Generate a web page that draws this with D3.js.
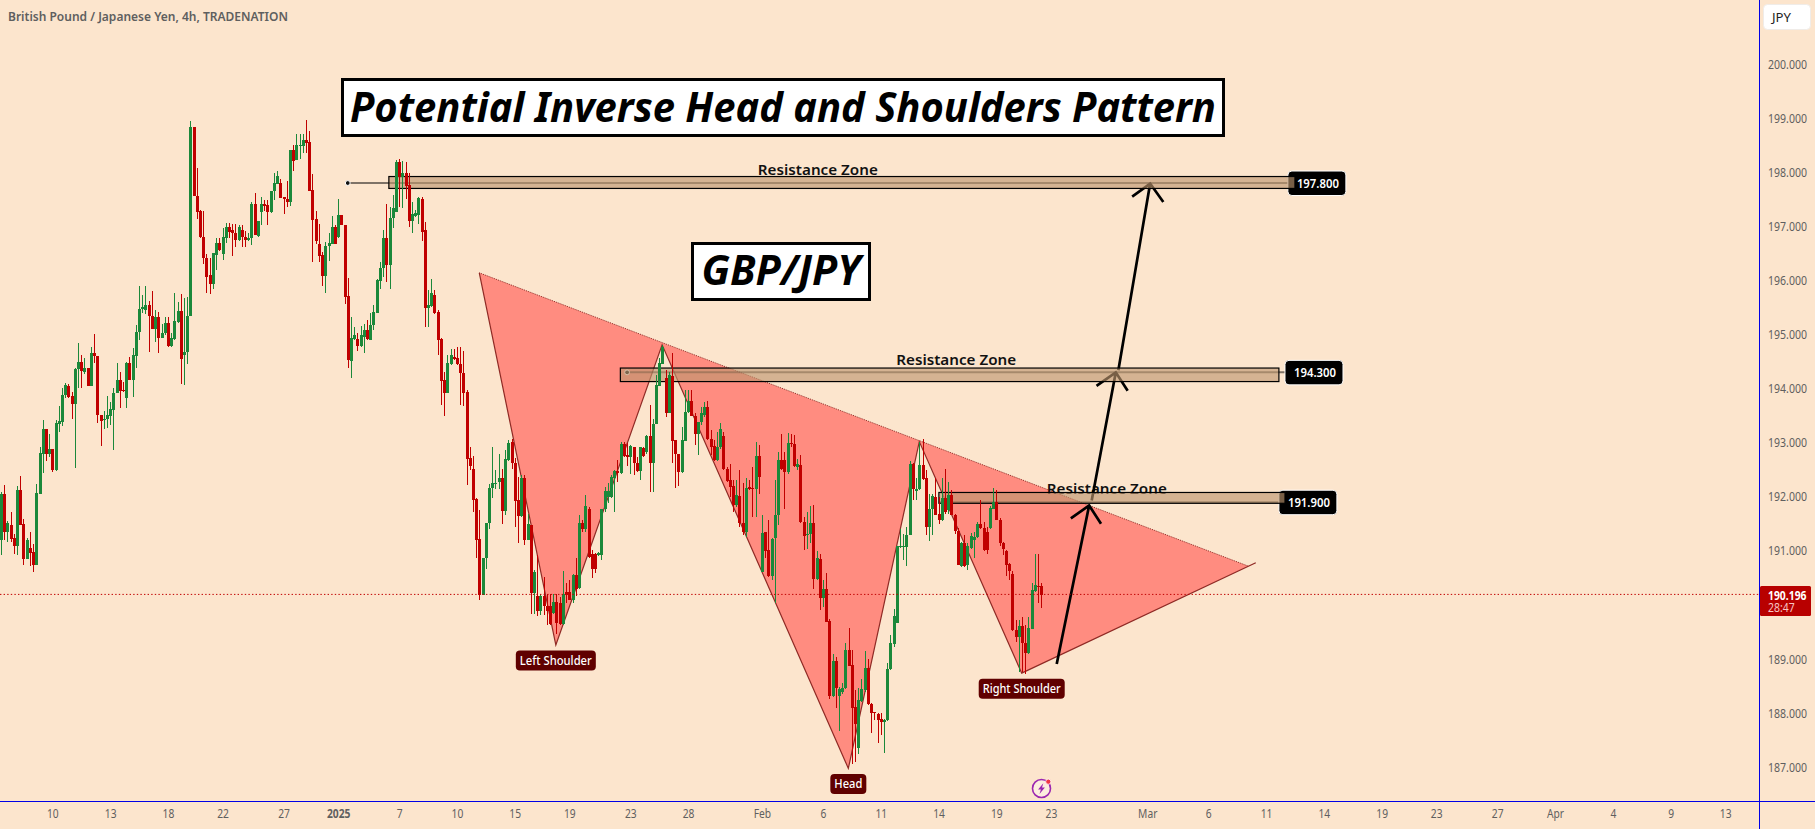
<!DOCTYPE html>
<html>
<head>
<meta charset="utf-8">
<title>GBP/JPY 4h</title>
<script src="https://cdn.jsdelivr.net/npm/d3@7/dist/d3.min.js"></script>
<style>
  html, body { margin: 0; padding: 0; background: #fce5cd; overflow: hidden; }
  svg { display: block; }
  text { font-family: "Noto Sans", "Open Sans", sans-serif; }
</style>
</head>
<body>
<svg id="chart" width="1815" height="829"></svg>
<script>
// GBP/JPY 4h candles as [open, high, low, close], oldest first.
const lateDecemberBars = [
[191.20,192.09,190.92,192.05],[192.05,192.22,191.20,191.35],[191.35,191.56,191.17,191.52],[191.48,191.71,191.17,191.22],
[191.24,191.31,190.94,191.09],[191.09,192.20,190.92,192.13],[192.13,192.39,191.48,191.48],[191.50,191.59,190.74,190.85],
[190.85,191.24,190.85,191.20],[191.05,191.35,190.72,190.96],[190.98,191.13,190.61,190.74],[190.74,192.24,190.74,192.07],
[192.05,192.92,192.05,192.81],[192.79,193.42,192.44,193.25],[193.25,193.25,192.66,192.79],[192.79,193.16,192.74,192.88],
[192.88,192.88,192.46,192.50],[192.50,193.42,192.48,193.37],[193.35,193.68,193.20,193.40],[193.39,194.01,193.30,193.88],
[193.88,194.11,193.82,194.07],[194.04,194.09,193.82,193.85],[193.87,193.93,193.44,193.72],[193.72,194.38,192.53,194.36],
[194.36,194.84,194.02,194.49],[194.49,194.62,194.01,194.33],[194.30,194.56,194.27,194.39],[194.39,194.39,194.04,194.04],
[194.04,194.76,194.04,194.65],[194.65,195.01,194.48,194.60],[194.60,194.60,193.37,193.51],[193.52,193.52,192.94,193.41],
[193.43,193.59,193.25,193.44],[193.43,193.86,193.28,193.51],[193.49,193.76,193.33,193.62],[193.61,194.01,192.87,193.91],
[193.91,194.47,193.91,194.16],[194.16,194.31,193.64,193.96],[193.97,194.13,193.94,193.96],[193.83,194.50,193.65,194.47],
[194.47,194.59,194.15,194.16],[194.16,194.75,193.85,194.62],[194.61,195.18,194.39,195.05],[195.05,195.90,194.90,195.48],
[195.48,195.73,195.39,195.50],[195.45,195.90,195.38,195.55],[195.55,195.61,194.67,195.35],[195.35,195.80,195.10,195.10],
[195.10,195.45,194.87,195.33],[195.33,195.41,194.66,194.94],[194.94,195.20,194.93,195.02],[195.02,195.33,194.99,195.22],
[195.22,195.33,194.77,194.79],[194.79,195.02,194.77,194.93],[194.91,195.77,194.90,195.25],[195.23,195.60,195.21,195.43],
[195.43,195.74,194.08,194.54],[194.62,195.67,194.06,194.68],[194.68,195.70,194.45,195.35],[195.35,198.94,195.35,198.83],
[198.83,198.83,197.56,197.56],[197.56,198.08,197.14,197.27],[197.28,197.30,196.79,196.80],[196.80,197.28,196.31,196.42],
[196.42,196.48,195.77,196.06],[196.10,196.42,195.74,195.93],[195.93,196.50,195.85,196.50],[196.47,196.79,196.19,196.70],
[196.70,196.79,196.55,196.56],[196.48,196.97,196.37,196.80],[196.79,197.07,196.69,196.99],[196.99,197.07,196.79,196.90],
[196.93,197.05,196.45,196.88],[196.88,197.04,196.62,196.74],[196.74,197.03,196.73,196.99],[196.94,197.02,196.62,196.80],
[196.80,196.92,196.62,196.74],[196.74,196.87,196.73,196.79],[196.79,197.44,196.65,197.42],[197.42,197.62,196.83,196.83],
[196.82,197.10,196.80,197.10],[197.27,197.54,197.02,197.42],[197.42,197.49,197.29,197.37],[197.39,197.48,197.02,197.26],
[197.26,197.65,197.24,197.65],[197.65,197.98,197.48,197.80],[197.78,198.02,197.78,197.93],[197.80,197.88,197.53,197.53],
[197.54,197.54,197.22,197.50],[197.51,197.83,197.36,197.45],[197.45,198.41,197.37,198.41],[198.41,198.50,198.02,198.20],
[198.22,198.70,198.22,198.50],[198.49,198.71,198.25,198.50],[198.48,198.71,198.36,198.59],[198.59,198.96,198.35,198.54],
[198.55,198.76,197.65,197.65],[197.67,197.96,196.34,197.11],[197.13,197.28,196.68,196.72],[196.67,197.05,196.34,196.45],
[196.47,196.53,195.89,196.08],[196.08,196.71,195.76,196.64],[196.64,196.87,196.36,196.70],[196.68,197.19,196.67,196.99],
[196.99,197.02,196.67,196.68],[196.80,197.51,196.79,197.21]
];
const januaryBars = [
[197.21,197.21,197.02,197.02],[197.02,197.02,195.56,195.70],[195.71,196.05,194.38,194.52],[194.51,195.33,194.20,194.94],
[194.92,195.14,194.89,194.99],[194.92,195.02,194.70,194.79],[194.79,195.15,194.77,194.99],[194.96,195.19,194.65,195.09],
[195.09,195.26,194.90,194.92],[194.90,195.39,194.89,195.17],[195.17,195.54,195.08,195.41],[195.40,196.03,195.39,196.00],
[195.98,196.34,195.85,196.22],[196.22,196.93,196.06,196.79],[196.79,197.41,195.97,196.28],[196.28,197.36,195.85,197.16],
[197.16,197.57,196.96,197.33],[197.27,198.22,197.27,198.19],[198.18,198.25,197.36,197.91],[197.91,198.20,197.33,197.99],
[197.99,198.18,197.51,197.75],[197.76,197.98,196.99,197.10],[197.10,197.45,196.88,197.22],[197.19,197.30,197.17,197.24],
[197.21,197.54,197.05,197.53],[197.51,197.54,196.73,196.90],[196.93,197.08,195.14,195.49],[195.49,195.82,195.14,195.54],
[195.52,196.02,195.51,195.76],[195.73,195.82,195.37,195.40],[195.42,195.45,194.62,194.89],[194.91,194.94,193.69,194.14],
[194.16,194.31,193.50,193.92],[193.92,194.62,193.91,194.48],[194.46,194.73,194.43,194.62],[194.58,194.73,194.53,194.54],
[194.56,194.77,194.43,194.46],[194.46,194.76,193.69,194.28],[194.28,194.69,193.68,193.92],[193.93,193.97,192.21,192.70],
[192.71,192.92,192.49,192.57],[192.52,192.75,191.72,191.94],[191.96,191.97,190.86,191.21],[191.22,191.75,190.10,190.19],
[190.19,190.86,190.18,190.86],[190.86,191.52,190.67,191.52],[191.51,192.23,191.41,192.17],[192.17,192.92,191.97,192.25],
[192.23,192.49,192.15,192.26],[192.28,192.80,192.15,192.34],[192.34,192.52,191.49,191.73],[191.73,192.86,191.66,192.70],
[192.68,193.05,192.67,192.99],[193.02,193.07,192.52,192.62],[192.63,192.71,191.44,191.93],[191.94,192.37,191.14,191.65],
[191.65,192.40,191.63,192.34],[192.34,192.40,191.11,191.21],[191.21,191.69,191.20,191.49],[191.47,191.47,189.84,190.22],
[190.22,190.64,189.84,190.61],[190.17,190.92,189.80,189.89],[189.89,190.21,189.81,190.17],[190.17,190.52,189.81,189.98],
[189.98,190.21,189.63,189.89],[189.98,190.21,189.63,189.65],[189.85,190.21,189.84,190.06],[190.06,190.21,189.47,189.66],
[190.03,190.15,189.63,189.65],[189.65,190.63,189.63,190.21],[190.24,190.40,190.03,190.18],[190.24,190.46,190.09,190.09],
[190.09,190.58,190.03,190.56],[190.56,190.86,190.17,190.30],[190.32,191.66,190.30,191.52],[191.52,191.57,191.35,191.40],
[191.40,192.03,191.35,191.83],[191.77,191.81,190.86,190.88],[190.95,191.01,190.49,190.66],[190.95,190.96,190.59,190.67],
[190.92,190.98,190.90,190.96],[190.92,191.78,190.83,191.77],[191.77,192.18,191.72,192.10],[192.00,192.25,191.88,192.10],
[192.00,192.40,191.97,192.37],[192.34,192.49,191.72,192.47],[192.47,192.68,192.28,192.44],[192.44,193.02,192.43,192.97],
[192.97,193.02,192.74,192.76],[192.77,192.99,192.57,192.73],[192.73,192.95,192.42,192.94],[192.92,192.92,192.40,192.62],
[192.62,192.74,192.46,192.48],[192.48,192.92,192.31,192.92],[192.91,192.92,192.74,192.76],[192.82,193.14,192.80,193.13],
[193.13,193.69,192.08,192.63],[192.63,193.43,192.08,193.35],[193.34,194.25,193.34,194.06],[194.05,194.56,194.05,194.48],
[194.46,194.80,194.46,194.77],[194.19,194.34,193.48,193.55],[193.55,194.31,193.54,194.25],[194.24,194.65,192.62,193.03],
[193.05,193.05,192.17,192.80],[192.80,192.80,192.20,192.46],[192.46,193.29,192.44,193.05],[193.03,193.97,193.03,193.57],
[193.57,193.97,193.54,193.77],[193.77,193.97,193.50,193.50],[193.50,193.54,192.95,193.17],[193.16,193.39,192.78,193.39],
[193.39,193.66,193.32,193.54],[193.51,193.76,193.48,193.66],[193.66,193.77,193.05,193.06],[193.06,193.23,192.77,192.92],
[192.94,193.05,192.66,192.68],[192.68,193.20,192.66,192.92],[192.92,193.36,192.89,193.26],[193.12,193.20,192.49,192.51],
[192.52,192.55,192.28,192.29],[192.31,192.60,192.00,192.18],[192.20,192.31,191.72,191.85],[191.85,192.31,191.81,192.03],
[192.01,192.49,191.44,191.52],[191.52,192.25,191.29,191.35],[191.35,192.34,191.26,192.17],[192.18,192.31,192.12,192.15],
[192.17,192.55,191.62,192.15],[192.15,193.02,191.63,192.75],[192.75,192.95,192.06,192.37]
];
const februaryBars = [
[190.61,191.67,190.61,191.34],[191.35,191.35,190.86,190.99],[191.01,191.58,190.52,190.54],[190.54,191.23,190.46,191.22],
[191.23,192.31,190.03,191.66],[191.66,192.83,191.47,192.68],[192.68,193.17,192.49,192.52],[192.68,192.83,191.78,192.46],
[192.46,193.18,192.43,193.00],[193.00,193.17,192.92,192.97],[192.97,193.14,192.55,192.57],[192.55,192.69,192.49,192.60],
[192.58,192.77,191.51,191.54],[191.54,191.63,191.01,191.28],[191.29,191.72,191.04,191.32],[191.32,191.83,191.14,191.52],
[191.52,191.85,190.30,190.48],[190.48,191.00,190.46,190.86],[190.85,190.95,189.90,190.13],[190.13,190.46,189.97,190.29],
[190.29,190.60,189.69,189.69],[189.70,189.75,188.27,188.31],[188.31,189.10,188.30,188.96],[188.96,189.03,188.09,188.46],
[188.31,188.49,187.67,188.44],[188.39,188.55,188.36,188.46],[188.46,189.29,188.44,189.17],[189.17,189.58,188.87,188.87],
[188.89,189.17,187.06,188.10],[188.12,188.43,187.10,187.80],[187.35,188.46,187.24,188.24],[188.23,188.64,188.21,188.44],
[188.42,189.15,188.39,188.84],[188.84,189.01,188.15,188.17],[188.17,188.18,187.64,188.01],[188.02,188.02,187.87,188.00],
[187.98,188.00,187.44,187.87],[187.89,188.00,187.59,187.84],[187.84,187.90,187.27,187.88],[187.87,188.92,187.86,188.81],
[188.81,189.44,188.79,189.29],[189.28,189.92,189.23,189.79],[189.66,191.09,189.66,191.09],[191.08,191.41,191.06,191.09],
[191.08,191.32,190.83,191.09],[191.08,191.44,190.72,191.30],[191.29,192.67,191.29,192.60],[192.60,192.63,191.94,192.15],
[192.11,192.34,191.95,192.15],[192.14,193.02,192.12,192.59],[192.59,193.06,192.31,192.32],[192.34,192.49,191.29,191.45],
[191.45,192.05,191.19,191.78],[191.78,192.05,191.29,192.01],[191.99,192.34,191.66,191.67],[191.69,191.99,191.49,191.57],
[191.57,192.34,191.56,191.97],[191.97,192.51,191.69,191.71],[191.75,192.28,191.69,192.03],[192.03,192.12,191.66,191.67],
[191.67,191.69,191.32,191.37],[191.37,191.43,190.74,190.74],[190.72,191.17,190.71,191.14],[191.14,191.29,190.71,190.72],
[190.74,191.14,190.64,191.09],[191.06,191.33,191.04,191.27],[191.20,191.35,190.86,191.26],[191.25,191.54,191.23,191.49],
[191.49,191.94,191.41,191.43],[191.43,191.54,191.00,191.01],[191.35,191.44,190.95,191.01],[191.43,191.83,191.41,191.80],
[191.78,192.17,191.78,191.91],[191.91,192.12,191.57,191.57],[191.58,191.60,191.09,191.14],[191.15,191.17,190.92,191.04],
[190.99,191.01,190.53,190.74],[190.75,190.77,190.46,190.63],[190.57,190.63,189.52,189.53],[189.53,189.72,189.32,189.41],
[189.41,189.73,188.76,189.61],[189.61,189.78,188.76,189.30],[189.30,189.63,188.72,189.12],[189.12,189.78,189.10,189.57],
[189.55,190.40,189.55,190.27],[190.26,190.94,190.24,190.37],[190.36,190.94,190.03,190.35],[190.36,190.40,189.95,190.18]
];
const bars = [...lateDecemberBars, ...januaryBars, ...februaryBars];

// Price axis and time axis labels. Time ticks are given in bar slots.
const priceTicks = [187, 188, 189, 191, 192, 193, 194, 195, 196, 197, 198, 199, 200];
const timeTickBars = [16, 34, 52, 69, 88, 105, 124, 142, 160, 177, 196, 214, 237, 256, 274, 292, 310, 327, 357, 376, 394, 412, 430, 447, 466, 484, 502, 520, 537];
const timeTickLabels = ["10", "13", "18", "22", "27", "2025", "7", "10", "15", "19", "23", "28", "Feb", "6", "11", "14", "19", "23", "Mar", "6", "11", "14", "19", "23", "27", "Apr", "4", "9", "13"];
const lastPrice = 190.196;

// Head and shoulders outline as [bar slot, price].
const patternOutline = [[148.96, 196.14], [172.8, 189.26], [205.9, 194.81], [263.9, 186.98], [286.0, 193.02], [317.9, 188.74], [390.8, 190.78]];
const patternUpperEdge = [[148.96, 196.14], [388.4, 190.72]];
const patternLabels = ["Left Shoulder", "Head", "Right Shoulder"];
const patternLabelAnchors = [[172.8, 189.26], [263.9, 186.98], [317.9, 188.74]];

// Resistance zones.
const zoneLevels = [197.8, 194.3, 191.9];
const zoneTops = [197.92, 194.38, 192.08];
const zoneBottoms = [197.70, 194.13, 191.88];
const zoneStarts = [120.8, 192.9, 292.1];
const zoneEnds = [403, 398, 399.9];
const zoneLineStarts = [108, 195, 292.1];
const zoneTagBars = [400.8, 399.9, 398];
const zoneCaptions = ["Resistance Zone", "Resistance Zone", "Resistance Zone"];
const zoneCaptionBars = [254.4, 297.5, 344.4];
const zoneCaptionPrices = [198.05, 194.55, 192.17];

// Projected path: each arrow is start, tip, left barb, right barb.
const arrows = [
  [[328.8, 188.91], [338.9, 191.84], [333.2, 191.60], [342.6, 191.50]],
  [[339.7, 191.93], [347.2, 194.30], [341.2, 194.05], [350.9, 193.96]],
  [[348.0, 194.34], [357.9, 197.79], [352.3, 197.55], [362.0, 197.45]]
];

const BG = "#fce5cd", UP = "#1b883a", DOWN = "#c00000", AXIS_BLUE = "#0000e6", TEXT_GREY = "#5f5f5f";
const width = 1815, height = 829, plotRight = 1759, plotBottom = 801.5;

const svg = d3.select("#chart");
svg.append("rect").attr("width", width).attr("height", height).attr("fill", BG);

const x = d3.scaleLinear().domain([0, bars.length - 1]).range([1, 1041.3]);
const y = d3.scaleLinear().domain([187, 200]).range([767.3, 64]);
const pt = d => [x(d[0]), y(d[1])];

// Narrow a rendered label to the width its typeface would normally take.
const squeeze = (sel, factor) => sel.each(function () {
  this.setAttribute("textLength", this.getComputedTextLength() * factor);
  this.setAttribute("lengthAdjust", "spacingAndGlyphs");
});

// Pattern fill and edges.
const pattern = svg.append("g");
pattern.append("path")
  .attr("d", d3.line()([...patternOutline, patternUpperEdge[1]].map(pt)) + "Z")
  .attr("fill", "#ff8c80").attr("stroke", "none");
pattern.append("path")
  .attr("d", d3.line()(patternOutline.map(pt)))
  .attr("fill", "none").attr("stroke", "#8f2a25").attr("stroke-width", 1.2);
pattern.append("path")
  .attr("d", d3.line()(patternUpperEdge.map(pt)))
  .attr("fill", "none").attr("stroke", "#8f2a25").attr("stroke-width", 1).attr("stroke-dasharray", "1 1");

// Zone guide lines with their start dots, then captions and price tags.
const zoneIdx = d3.range(zoneLevels.length);
svg.append("g").selectAll("line").data(zoneIdx).join("line")
  .attr("x1", i => x(zoneLineStarts[i])).attr("x2", i => x(zoneTagBars[i]))
  .attr("y1", i => y(zoneLevels[i])).attr("y2", i => y(zoneLevels[i]))
  .attr("stroke", "rgba(0,0,0,0.5)").attr("stroke-width", 2);
svg.append("g").selectAll("circle").data(zoneIdx.slice(0, 2)).join("circle")
  .attr("cx", i => x(zoneLineStarts[i])).attr("cy", i => y(zoneLevels[i]))
  .attr("r", 2.4).attr("fill", "#111").attr("stroke", "#fff").attr("stroke-width", 1);

svg.append("g").selectAll("text").data(zoneIdx).join("text")
  .attr("x", i => x(zoneCaptionBars[i])).attr("y", i => y(zoneCaptionPrices[i]))
  .attr("text-anchor", "middle").attr("dominant-baseline", "central")
  .attr("font-size", 15).attr("font-weight", 600).attr("fill", "#111")
  .attr("textLength", 120).attr("lengthAdjust", "spacingAndGlyphs")
  .text(i => zoneCaptions[i]);

// Arrows.
svg.append("g").selectAll("path").data(arrows).join("path")
  .attr("d", a => d3.line()([a[0], a[1]].map(pt)) + d3.line()([a[2], a[1], a[3]].map(pt)))
  .attr("fill", "none").attr("stroke", "#000").attr("stroke-width", 2.7);

// Zone price tags.
const tags = svg.append("g").selectAll("g").data(zoneIdx).join("g")
  .attr("transform", i => `translate(${x(zoneTagBars[i])},${y(zoneLevels[i])})`);
tags.append("rect")
  .attr("x", 0).attr("y", -12).attr("width", 58).attr("height", 24.5).attr("rx", 4)
  .attr("fill", "#000").attr("stroke", "#fff").attr("stroke-width", 1);
tags.append("text")
  .attr("x", 30).attr("dominant-baseline", "central").attr("text-anchor", "middle")
  .attr("font-size", 12.5).attr("font-weight", 600).attr("fill", "#fff")
  .attr("textLength", 42).attr("lengthAdjust", "spacingAndGlyphs")
  .text(i => zoneLevels[i].toFixed(3));

// Zone bands sit over the guides, captions, arrows and tags.
svg.append("g").selectAll("rect").data(zoneIdx).join("rect")
  .attr("x", i => x(zoneStarts[i])).attr("width", i => x(zoneEnds[i]) - x(zoneStarts[i]))
  .attr("y", i => y(zoneTops[i])).attr("height", i => y(zoneBottoms[i]) - y(zoneTops[i]))
  .attr("fill", "rgba(190,151,111,0.63)").attr("stroke", "#000").attr("stroke-width", 1.2);

// Candles stay fully opaque above the zones and the pattern fill.
const candles = svg.append("g").attr("shape-rendering", "crispEdges")
  .selectAll("g").data(bars).join("g")
  .attr("fill", d => d[3] >= d[0] ? UP : DOWN);
candles.append("rect")
  .attr("x", (d, i) => Math.round(x(i)))
  .attr("width", 1)
  .attr("y", d => y(d[1]))
  .attr("height", d => Math.max(1, y(d[2]) - y(d[1])));
candles.append("rect")
  .attr("x", (d, i) => Math.round(x(i)) - 1)
  .attr("width", 3)
  .attr("y", d => y(Math.max(d[0], d[3])))
  .attr("height", d => Math.max(1, Math.abs(y(d[0]) - y(d[3]))));

// Last price line.
svg.append("line")
  .attr("x1", 0).attr("x2", plotRight)
  .attr("y1", y(lastPrice)).attr("y2", y(lastPrice))
  .attr("stroke", DOWN).attr("stroke-width", 1).attr("stroke-dasharray", "1.4 2.2");

// Pattern point labels.
const pills = svg.append("g").selectAll("g").data(patternLabels).join("g")
  .attr("transform", (d, i) => {
    const p = pt(patternLabelAnchors[i]);
    return `translate(${p[0]},${p[1] + 5.5})`;
  });
const pillWidths = [80, 36, 86];
const pillTextWidths = [72, 28, 78];
pills.append("rect")
  .attr("x", (d, i) => -pillWidths[i] / 2).attr("width", (d, i) => pillWidths[i])
  .attr("y", 0).attr("height", 20).attr("rx", 4).attr("fill", "#600000");
pills.append("text")
  .attr("y", 10).attr("text-anchor", "middle").attr("dominant-baseline", "central")
  .attr("font-size", 12.5).attr("font-weight", 500).attr("fill", "#fff")
  .attr("textLength", (d, i) => pillTextWidths[i]).attr("lengthAdjust", "spacingAndGlyphs")
  .text(d => d);

// Headline boxes.
function headlineBox(text, bx, by, bw, bh, size, baseline, textLen) {
  const g = svg.append("g");
  g.append("rect").attr("x", bx + 1.5).attr("y", by + 1.5).attr("width", bw - 3).attr("height", bh - 3)
    .attr("fill", "#fff").attr("stroke", "#000").attr("stroke-width", 3);
  g.append("text")
    .attr("x", bx + bw / 2).attr("y", baseline)
    .attr("text-anchor", "middle")
    .attr("font-size", size).attr("font-weight", 700).attr("font-style", "italic")
    .attr("textLength", textLen).attr("lengthAdjust", "spacingAndGlyphs")
    .attr("fill", "#000").text(text);
}
headlineBox("Potential Inverse Head and Shoulders Pattern", 341, 78, 884, 59, 42, 121.7, 866);
headlineBox("GBP/JPY", 691, 242, 180, 59, 42, 285, 159);

// Chart caption.
svg.append("text")
  .attr("x", 8).attr("y", 16.5).attr("dominant-baseline", "central")
  .attr("font-size", 12.5).attr("font-weight", 600).attr("fill", TEXT_GREY)
  .attr("textLength", 280).attr("lengthAdjust", "spacingAndGlyphs")
  .text("British Pound / Japanese Yen, 4h, TRADENATION");

// Axes.
const priceAxis = d3.axisRight(y).tickValues(priceTicks).tickSize(0).tickPadding(0).tickFormat(d => d3.format(".3f")(d));
const priceG = svg.append("g").attr("transform", "translate(1768,0)").call(priceAxis);
priceG.select(".domain").remove();
priceG.selectAll("text").attr("font-size", 12.5).attr("fill", TEXT_GREY).attr("font-family", null)
  .attr("textLength", 39).attr("lengthAdjust", "spacingAndGlyphs");

const timeAxis = d3.axisBottom(x).tickValues(timeTickBars).tickSize(0).tickPadding(0)
  .tickFormat((d, i) => timeTickLabels[i]);
const timeG = svg.append("g").attr("transform", "translate(0,809.5)").call(timeAxis);
timeG.select(".domain").remove();
timeG.selectAll("text").attr("font-size", 12.5).attr("fill", TEXT_GREY).attr("font-family", null)
  .attr("font-weight", d => d === 105 ? 700 : 400)
  .call(squeeze, 0.82);

svg.append("g").attr("stroke", AXIS_BLUE).attr("stroke-width", 1).attr("shape-rendering", "crispEdges")
  .call(g => g.append("line").attr("x1", plotRight + 0.5).attr("x2", plotRight + 0.5).attr("y1", 0).attr("y2", height))
  .call(g => g.append("line").attr("x1", 0).attr("x2", width).attr("y1", plotBottom).attr("y2", plotBottom));

// Currency button.
svg.append("rect").attr("x", 1763.5).attr("y", 4.5).attr("width", 47).attr("height", 25).attr("rx", 4)
  .attr("fill", "#fff").attr("stroke", "#f0ece8");
svg.append("text").attr("x", 1772).attr("y", 17.5).attr("dominant-baseline", "central")
  .attr("font-size", 12.5).attr("fill", "#222")
  .attr("textLength", 19).attr("lengthAdjust", "spacingAndGlyphs").text("JPY");

// Last price tag with bar countdown.
svg.append("rect").attr("x", plotRight + 1).attr("y", y(lastPrice) - 8.5).attr("width", 51).attr("height", 30).attr("rx", 1.5).attr("fill", "#b80000");
svg.append("text").attr("x", 1768).attr("y", y(lastPrice) + 1).attr("dominant-baseline", "central")
  .attr("font-size", 12.5).attr("font-weight", 700).attr("fill", "#fff")
  .attr("textLength", 38.5).attr("lengthAdjust", "spacingAndGlyphs").text(lastPrice.toFixed(3));
svg.append("text").attr("x", 1768).attr("y", y(lastPrice) + 13.5).attr("dominant-baseline", "central")
  .attr("font-size", 12.5).attr("fill", "#f6c4c4")
  .attr("textLength", 26.7).attr("lengthAdjust", "spacingAndGlyphs").text("28:47");

// Lightning badge on the time scale.
const badge = svg.append("g").attr("transform", "translate(1041.5,788.5)");
badge.append("circle").attr("r", 9).attr("fill", "#fff").attr("fill-opacity", 0.35).attr("stroke", "#9c27b0").attr("stroke-width", 1.6);
badge.append("path").attr("d", "M1.8,-5.2 L-3.4,1 L-0.6,1 L-2,5.4 L3.4,-1 L0.5,-1 Z").attr("fill", "#9c27b0");
badge.append("circle").attr("cx", 6.8).attr("cy", -6.8).attr("r", 2.6).attr("fill", "#f23645").attr("stroke", "#fff").attr("stroke-width", 0.8);
</script>
</body>
</html>
